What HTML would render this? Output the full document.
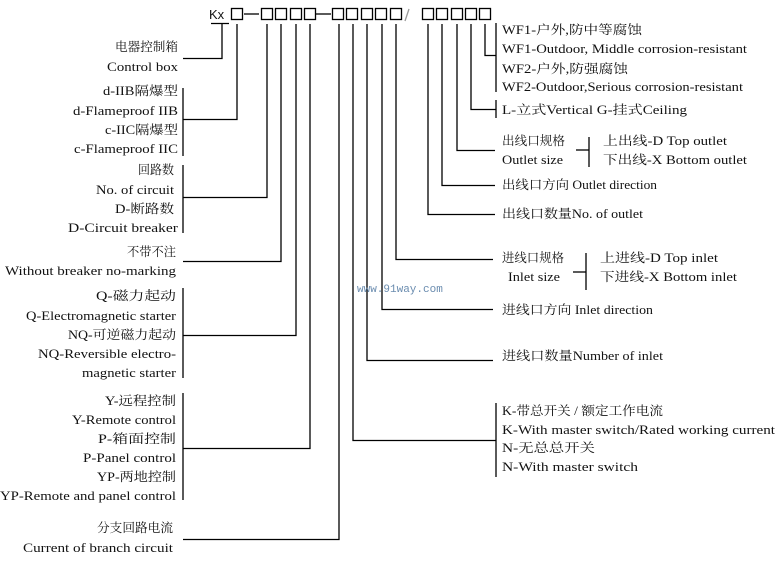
<!DOCTYPE html>
<html><head><meta charset="utf-8"><style>
html,body{margin:0;padding:0;background:#fff;}
svg text{font-family:"Liberation Serif","Noto Serif CJK SC","Noto Sans CJK SC",serif;font-size:12.5px;fill:#111;}
</style></head><body>
<svg width="783" height="576" viewBox="0 0 783 576" xmlns="http://www.w3.org/2000/svg">
<g fill="none" stroke="#000" stroke-width="1.3">
<rect x="231.5" y="8.5" width="11" height="11"/>
<rect x="261.5" y="8.5" width="11" height="11"/><rect x="275.5" y="8.5" width="11" height="11"/><rect x="290.5" y="8.5" width="11" height="11"/><rect x="304.5" y="8.5" width="11" height="11"/>
<rect x="332.5" y="8.5" width="11" height="11"/><rect x="346.5" y="8.5" width="11" height="11"/><rect x="361.5" y="8.5" width="11" height="11"/><rect x="375.5" y="8.5" width="11" height="11"/><rect x="390.5" y="8.5" width="11" height="11"/>
<rect x="422.5" y="8.5" width="11" height="11"/><rect x="436.5" y="8.5" width="11" height="11"/><rect x="451.5" y="8.5" width="11" height="11"/><rect x="465.5" y="8.5" width="11" height="11"/><rect x="479.5" y="8.5" width="11" height="11"/>
<line x1="244" y1="14" x2="259" y2="14"/><line x1="316" y1="14" x2="331" y2="14"/>
<line x1="405" y1="21" x2="409" y2="9" stroke="#999"/>
<polyline points="211,23.5 229,23.5"/>
<polyline points="222,23.5 222,58.5 183,58.5"/>
<polyline points="237,24 237,119.5 183,119.5"/>
<line x1="183" y1="88" x2="183" y2="156"/>
<polyline points="267,24 267,197.5 183,197.5"/>
<line x1="183" y1="165" x2="183" y2="233"/>
<polyline points="281,24 281,261.5 183,261.5"/>
<polyline points="296,24 296,335.5 183,335.5"/>
<line x1="183" y1="288" x2="183" y2="378"/>
<polyline points="310,24 310,448.5 183,448.5"/>
<line x1="183" y1="393" x2="183" y2="500"/>
<polyline points="339,24 339,539.5 183,539.5"/>
<polyline points="353,24 353,440.5 496,440.5"/>
<line x1="496" y1="403" x2="496" y2="477"/>
<polyline points="367,24 367,360.5 493,360.5"/>
<polyline points="382,24 382,309.5 493,309.5"/>
<polyline points="396,24 396,259.5 493,259.5"/>
<line x1="586" y1="253" x2="586" y2="290"/><line x1="573" y1="272" x2="586" y2="272"/>
<polyline points="428,24 428,214.5 495,214.5"/>
<polyline points="442,24 442,185.5 495,185.5"/>
<polyline points="457,24 457,150.5 495,150.5"/>
<line x1="589" y1="137" x2="589" y2="167"/><line x1="576" y1="150" x2="589" y2="150"/>
<polyline points="471,24 471,109.5 496,109.5"/>
<line x1="496" y1="100" x2="496" y2="118"/>
<polyline points="485,24 485,55.5 496,55.5"/>
<line x1="496" y1="23" x2="496" y2="92"/>
</g>
<text x="209" y="19" style="font-family:'Liberation Sans',sans-serif;font-size:13px">Kx</text>
<g text-anchor="end" lengthAdjust="spacingAndGlyphs">
<text x="178" y="51" textLength="63" lengthAdjust="spacingAndGlyphs">电器控制箱</text>
<text x="178" y="71" textLength="71" lengthAdjust="spacingAndGlyphs">Control box</text>
<text x="178" y="95" textLength="75" lengthAdjust="spacingAndGlyphs">d-IIB隔爆型</text>
<text x="178" y="115" textLength="105" lengthAdjust="spacingAndGlyphs">d-Flameproof IIB</text>
<text x="178" y="134" textLength="73" lengthAdjust="spacingAndGlyphs">c-IIC隔爆型</text>
<text x="178" y="153" textLength="104" lengthAdjust="spacingAndGlyphs">c-Flameproof IIC</text>
<text x="174" y="174" textLength="36" lengthAdjust="spacingAndGlyphs">回路数</text>
<text x="174" y="194" textLength="78" lengthAdjust="spacingAndGlyphs">No. of circuit</text>
<text x="174" y="213" textLength="59" lengthAdjust="spacingAndGlyphs">D-断路数</text>
<text x="178" y="232" textLength="110" lengthAdjust="spacingAndGlyphs">D-Circuit breaker</text>
<text x="176" y="256" textLength="49" lengthAdjust="spacingAndGlyphs">不带不注</text>
<text x="176" y="275" textLength="171" lengthAdjust="spacingAndGlyphs">Without breaker no-marking</text>
<text x="176" y="300" textLength="80" lengthAdjust="spacingAndGlyphs">Q-磁力起动</text>
<text x="176" y="320" textLength="150" lengthAdjust="spacingAndGlyphs">Q-Electromagnetic starter</text>
<text x="176" y="339" textLength="108" lengthAdjust="spacingAndGlyphs">NQ-可逆磁力起动</text>
<text x="176" y="358" textLength="138" lengthAdjust="spacingAndGlyphs">NQ-Reversible electro-</text>
<text x="176" y="377" textLength="94" lengthAdjust="spacingAndGlyphs">magnetic starter</text>
<text x="176" y="405" textLength="105" lengthAdjust="spacingAndGlyphs" style="visibility:hidden">.</text>
<text x="176" y="405" textLength="71" lengthAdjust="spacingAndGlyphs">Y-远程控制</text>
<text x="176" y="424" textLength="104" lengthAdjust="spacingAndGlyphs">Y-Remote control</text>
<text x="176" y="443" textLength="78" lengthAdjust="spacingAndGlyphs">P-箱面控制</text>
<text x="176" y="462" textLength="93" lengthAdjust="spacingAndGlyphs">P-Panel control</text>
<text x="176" y="481" textLength="79" lengthAdjust="spacingAndGlyphs">YP-两地控制</text>
<text x="176" y="500" textLength="176" lengthAdjust="spacingAndGlyphs">YP-Remote and panel control</text>
<text x="173" y="532" textLength="76" lengthAdjust="spacingAndGlyphs">分支回路电流</text>
<text x="173" y="552" textLength="150" lengthAdjust="spacingAndGlyphs">Current of branch circuit</text>
</g>
<g>
<text x="502" y="34" textLength="140" lengthAdjust="spacingAndGlyphs">WF1-户外,防中等腐蚀</text>
<text x="502" y="53" textLength="245" lengthAdjust="spacingAndGlyphs">WF1-Outdoor, Middle corrosion-resistant</text>
<text x="502" y="73" textLength="126" lengthAdjust="spacingAndGlyphs">WF2-户外,防强腐蚀</text>
<text x="502" y="91" textLength="241" lengthAdjust="spacingAndGlyphs">WF2-Outdoor,Serious corrosion-resistant</text>
<text x="502" y="114" textLength="185" lengthAdjust="spacingAndGlyphs">L-立式Vertical  G-挂式Ceiling</text>
<text x="502" y="145" textLength="63" lengthAdjust="spacingAndGlyphs">出线口规格</text>
<text x="502" y="164" textLength="61" lengthAdjust="spacingAndGlyphs">Outlet size</text>
<text x="603" y="145" textLength="124" lengthAdjust="spacingAndGlyphs">上出线-D Top outlet</text>
<text x="603" y="164" textLength="144" lengthAdjust="spacingAndGlyphs">下出线-X Bottom outlet</text>
<text x="502" y="189" textLength="155" lengthAdjust="spacingAndGlyphs">出线口方向 Outlet direction</text>
<text x="502" y="218" textLength="141" lengthAdjust="spacingAndGlyphs">出线口数量No. of outlet</text>
<text x="502" y="262" textLength="62" lengthAdjust="spacingAndGlyphs">进线口规格</text>
<text x="508" y="281" textLength="52" lengthAdjust="spacingAndGlyphs">Inlet size</text>
<text x="600" y="262" textLength="118" lengthAdjust="spacingAndGlyphs">上进线-D Top inlet</text>
<text x="600" y="281" textLength="137" lengthAdjust="spacingAndGlyphs">下进线-X Bottom inlet</text>
<text x="502" y="314" textLength="151" lengthAdjust="spacingAndGlyphs">进线口方向 Inlet direction</text>
<text x="502" y="360" textLength="161" lengthAdjust="spacingAndGlyphs">进线口数量Number of inlet</text>
<text x="502" y="415" textLength="161" lengthAdjust="spacingAndGlyphs">K-带总开关 / 额定工作电流</text>
<text x="502" y="434" textLength="273" lengthAdjust="spacingAndGlyphs">K-With master switch/Rated working current</text>
<text x="502" y="452" textLength="93" lengthAdjust="spacingAndGlyphs">N-无总总开关</text>
<text x="502" y="471" textLength="136" lengthAdjust="spacingAndGlyphs">N-With master switch</text>
</g>
<text x="357" y="292" style="font-family:'Liberation Mono',monospace;font-size:11px;fill:#6a8caf">www.91way.com</text>
</svg>
</body></html>
